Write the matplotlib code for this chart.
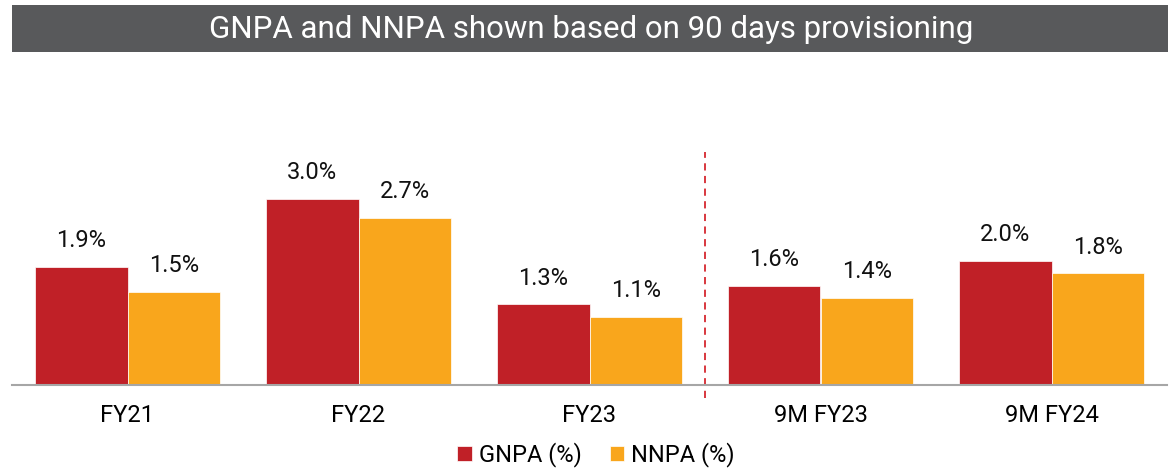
import matplotlib
matplotlib.use('Agg')
import matplotlib.pyplot as plt
import numpy as np
from matplotlib.patches import Rectangle

# Asset quality figures
periods = ['FY21', 'FY22', 'FY23', '9M FY23', '9M FY24']
gnpa = [1.9, 3.0, 1.3, 1.6, 2.0]
nnpa = [1.5, 2.7, 1.1, 1.4, 1.8]
title = 'GNPA and NNPA shown based on 90 days provisioning'

RED = '#C02027'
ORANGE = '#F9A61C'

plt.rcParams['font.family'] = ['Roboto', 'DejaVu Sans']

fig = plt.figure(figsize=(11.75, 4.75), dpi=100)
ax = fig.add_axes([12 / 1175, 90 / 475, 1155 / 1175, 310 / 475])

x = np.arange(len(periods))
w = 0.4
b1 = ax.bar(x - w / 2, gnpa, w, color=RED, label='GNPA (%)', edgecolor='white', linewidth=0.5)
b2 = ax.bar(x + w / 2, nnpa, w, color=ORANGE, label='NNPA (%)', edgecolor='white', linewidth=0.5)

for bars, vals in ((b1, gnpa), (b2, nnpa)):
    for bar, v in zip(bars, vals):
        ax.annotate(f'{v:.1f}%', (bar.get_x() + bar.get_width() / 2, v),
                    xytext=(0, 19), textcoords='offset points',
                    ha='center', va='center', fontsize=17, color='#111111')

# separator between annual and nine-month figures
ax.plot([2.5, 2.5], [-0.21, 3.75], color='#D6282F', linestyle=(0, (4, 3)),
        linewidth=1.3, clip_on=False)

ax.set_xlim(-0.5, len(periods) - 0.5)
ax.set_ylim(0, 5)
ax.set_xticks(x)
ax.set_xticklabels(periods, fontsize=17)
ax.tick_params(axis='x', length=0, pad=14)
ax.set_yticks([])
for s in ('top', 'right', 'left'):
    ax.spines[s].set_visible(False)
ax.spines['bottom'].set_color('#A6A6A6')
ax.spines['bottom'].set_linewidth(1.5)

fig.legend(handles=[b1, b2], loc='center', bbox_to_anchor=(596 / 1175, 1 - 455 / 475),
           ncol=2, frameon=False, fontsize=17, handlelength=0.6, handleheight=0.6,
           handletextpad=0.3, columnspacing=1.2)

# title banner
fig.patches.append(Rectangle((12 / 1175, 1 - 52 / 475), 1156 / 1175, 47 / 475,
                             transform=fig.transFigure, facecolor='#58595B',
                             edgecolor='none'))
fig.text(591 / 1175, 1 - 29 / 475, title, ha='center', va='center',
         fontsize=22.5, color='white')

fig.savefig('out.png', dpi=100, facecolor='white')
